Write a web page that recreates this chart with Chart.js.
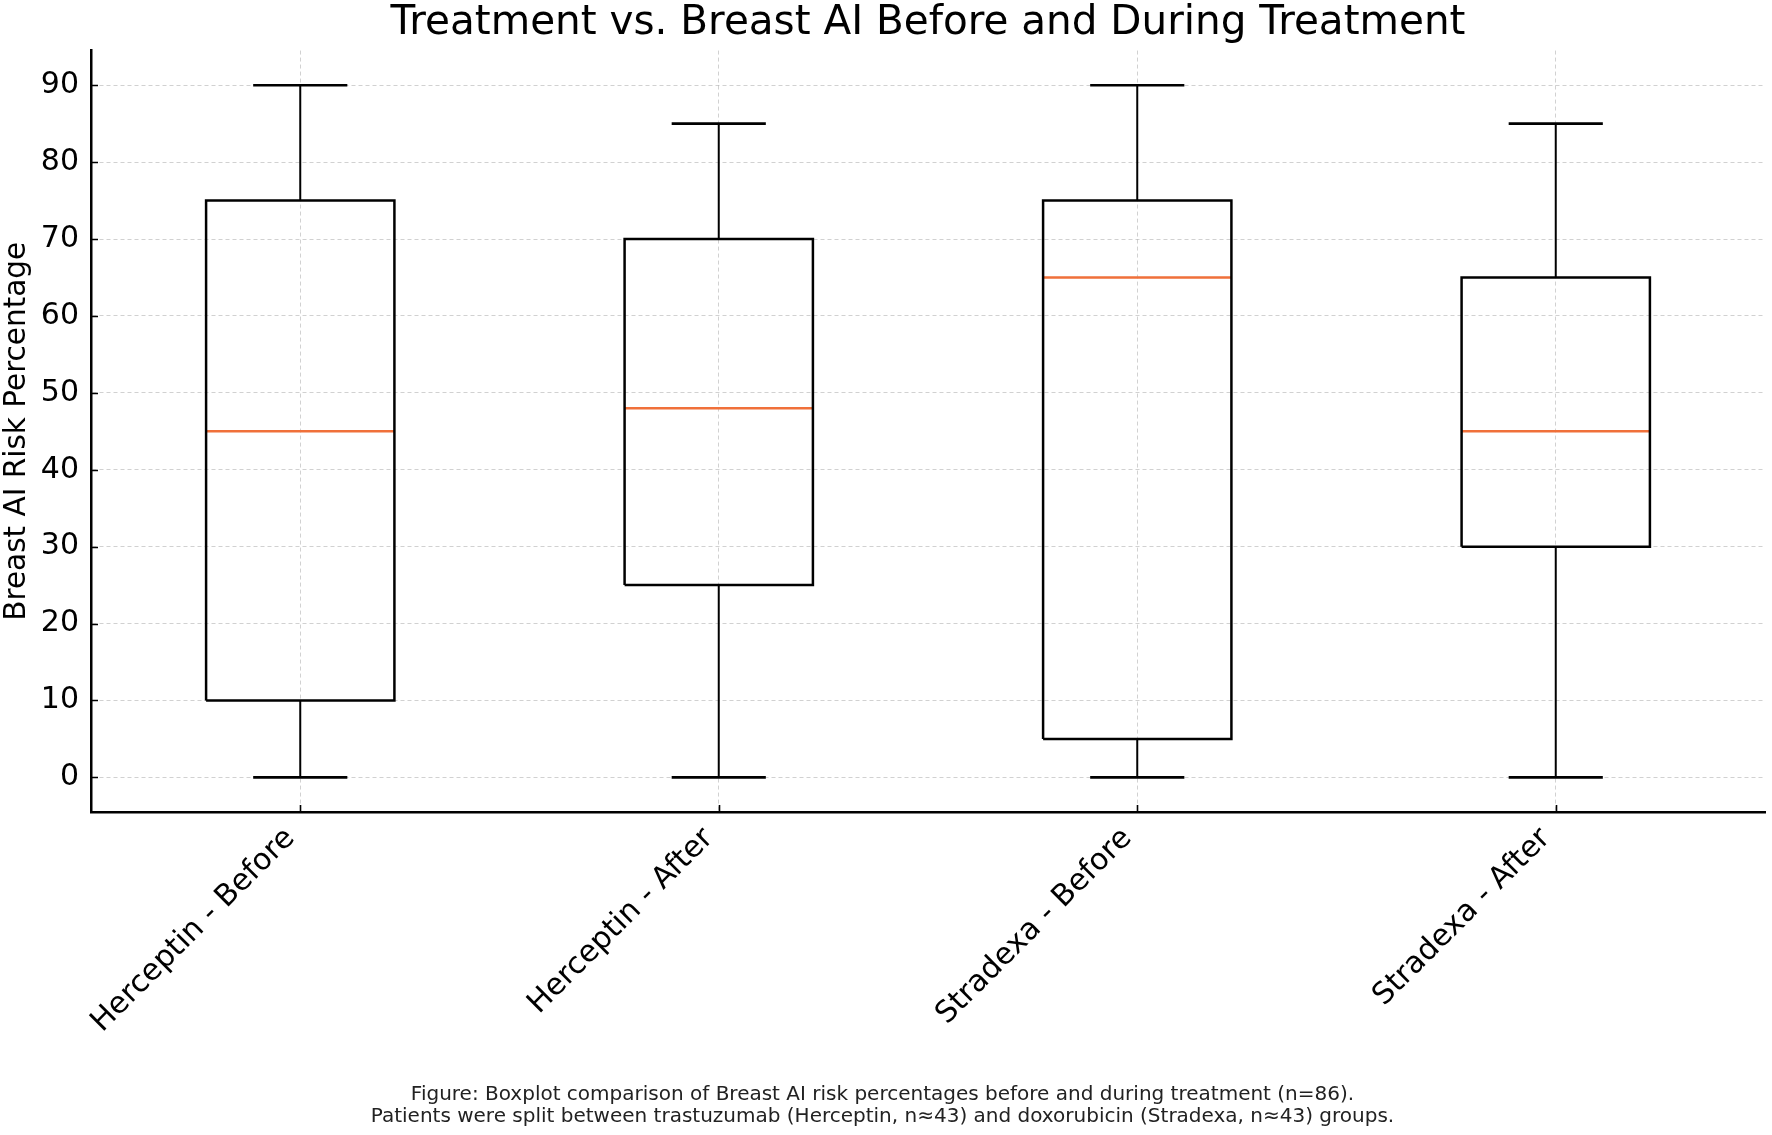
<!DOCTYPE html>
<html lang="en">
<head>
    <meta charset="UTF-8">
    <title>Treatment vs. Breast AI Before and During Treatment</title>
    <script src="https://cdn.jsdelivr.net/npm/chart.js"></script>
    <style>
        html, body { margin: 0; padding: 0; background: #fff; }
        #wrap { width: 1772px; height: 1135px; position: relative; }
    </style>
</head>
<body>
    <div id="wrap"><canvas id="boxChart"></canvas></div>

<script>
    // Boxplot summary values
    const categories = ['Herceptin - Before', 'Herceptin - After', 'Stradexa - Before', 'Stradexa - After'];
    const whiskerLow = [0, 0, 0, 0];
    const q1 = [10, 25, 5, 30];
    const medians = [45, 48, 65, 45];
    const q3 = [75, 70, 75, 65];
    const whiskerHigh = [90, 85, 90, 85];
    const yTicks = [0, 10, 20, 30, 40, 50, 60, 70, 80, 90];

    const boxWidth = 0.45;
    const capWidth = boxWidth / 2;
    const gap = { x: null, y: null };

    // build line segments (in data units) for each part of the boxplot
    const boxPts = [], whiskerPts = [], capPts = [], medianPts = [];
    categories.forEach((c, i) => {
        const x = i + 1, h = boxWidth / 2, ch = capWidth / 2;
        boxPts.push({ x: x - h, y: q1[i] }, { x: x + h, y: q1[i] }, { x: x + h, y: q3[i] },
                    { x: x - h, y: q3[i] }, { x: x - h, y: q1[i] }, gap);
        whiskerPts.push({ x: x, y: q1[i] }, { x: x, y: whiskerLow[i] }, gap,
                        { x: x, y: q3[i] }, { x: x, y: whiskerHigh[i] }, gap);
        capPts.push({ x: x - ch, y: whiskerLow[i] }, { x: x + ch, y: whiskerLow[i] }, gap,
                    { x: x - ch, y: whiskerHigh[i] }, { x: x + ch, y: whiskerHigh[i] }, gap);
        medianPts.push({ x: x - h, y: medians[i] }, { x: x + h, y: medians[i] }, gap);
    });

    const seg = (data, color, width) => ({
        type: 'line', data, borderColor: color, borderWidth: width,
        pointRadius: 0, spanGaps: false, fill: false, tension: 0
    });

    // matplotlib style ticks pointing into the plot
    const inwardTicks = {
        id: 'inwardTicks',
        afterDraw(chart) {
            const { ctx, chartArea, scales } = chart;
            ctx.save();
            ctx.strokeStyle = '#000';
            ctx.lineWidth = 1.6;
            ctx.beginPath();
            yTicks.forEach(v => {
                const py = Math.round(scales.y.getPixelForValue(v)) + 0.5;
                ctx.moveTo(chartArea.left, py);
                ctx.lineTo(chartArea.left + 7, py);
            });
            categories.forEach((c, i) => {
                const px = Math.round(scales.x.getPixelForValue(i + 1)) + 0.5;
                ctx.moveTo(px, chartArea.bottom);
                ctx.lineTo(px, chartArea.bottom - 7);
            });
            ctx.stroke();
            ctx.restore();
        }
    };

    Chart.defaults.font.family = '"DejaVu Sans", sans-serif';
    Chart.defaults.color = '#000';

    new Chart(document.getElementById('boxChart'), {
        type: 'line',
        data: {
            datasets: [
                seg(boxPts, '#000', 2.5),
                seg(whiskerPts, '#000', 2),
                seg(capPts, '#000', 2.6),
                seg(medianPts, '#f0703a', 2.5)
            ]
        },
        options: {
            responsive: true,
            maintainAspectRatio: false,
            devicePixelRatio: 1,
            animation: false,
            layout: { padding: { left: 0, right: 7, top: 0, bottom: 0 } },
            plugins: {
                legend: { display: false },
                tooltip: { enabled: false },
                title: {
                    display: true,
                    fullSize: false,
                    text: 'Treatment vs. Breast AI Before and During Treatment',
                    font: { size: 40.5, weight: 'normal', lineHeight: 1.15 },
                    color: '#000',
                    padding: { top: 0, bottom: 4 }
                },
                subtitle: {
                    display: true,
                    position: 'bottom',
                    text: ['Figure: Boxplot comparison of Breast AI risk percentages before and during treatment (n=86).',
                           'Patients were split between trastuzumab (Herceptin, n\u224843) and doxorubicin (Stradexa, n\u224843) groups.'],
                    font: { size: 20, lineHeight: 22 / 20 },
                    color: '#222',
                    padding: { top: 0, bottom: 7 }
                }
            },
            scales: {
                x: {
                    type: 'linear',
                    min: 0.5,
                    max: 4.5,
                    afterBuildTicks: axis => { axis.ticks = categories.map((c, i) => ({ value: i + 1 })); },
                    afterFit: axis => { axis.height = 272; axis.paddingLeft = 0; axis.paddingRight = 0; },
                    ticks: {
                        autoSkip: false,
                        minRotation: 45,
                        maxRotation: 45,
                        padding: 9,
                        labelOffset: -10,
                        font: { size: 30 },
                        callback: (v) => categories[Math.round(v) - 1]
                    },
                    grid: { color: 'rgba(0,0,0,0.18)', lineWidth: 1, drawTicks: false },
                    border: { color: '#000', width: 2.5, dash: [4, 3] }
                },
                y: {
                    type: 'linear',
                    min: -4.5,
                    max: 94.5,
                    afterBuildTicks: axis => { axis.ticks = yTicks.map(v => ({ value: v })); },
                    afterFit: axis => { axis.width = 91; },
                    ticks: { padding: 12, font: { size: 30 } },
                    grid: { color: 'rgba(0,0,0,0.18)', lineWidth: 1, drawTicks: false },
                    border: { color: '#000', width: 2.5, dash: [4, 3] },
                    title: {
                        display: true,
                        text: 'Breast AI Risk Percentage',
                        font: { size: 29.5 },
                        padding: 0
                    }
                }
            }
        },
        plugins: [inwardTicks]
    });
</script>
</body>
</html>
